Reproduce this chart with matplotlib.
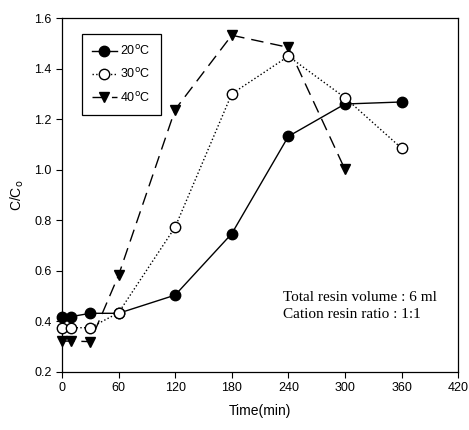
import matplotlib
matplotlib.use('Agg')
import matplotlib.pyplot as plt

# sampling times (min)
t20 = [0, 10, 30, 60, 120, 180, 240, 300, 360]
c20 = [0.419, 0.419, 0.432, 0.432, 0.504, 0.747, 1.132, 1.260, 1.268]

t30 = [0, 10, 30, 60, 120, 180, 240, 300, 360]
c30 = [0.375, 0.375, 0.375, 0.434, 0.773, 1.300, 1.449, 1.285, 1.085]

t40 = [0, 10, 30, 60, 120, 180, 240, 300]
c40 = [0.322, 0.322, 0.320, 0.582, 1.238, 1.532, 1.484, 1.001]

xticks = [0, 60, 120, 180, 240, 300, 360, 420]
yticks = [0.2, 0.4, 0.6, 0.8, 1.0, 1.2, 1.4, 1.6]

plt.rcParams['font.family'] = 'Liberation Sans'

fig = plt.figure(figsize=(4.69, 4.30), dpi=100)
ax = fig.add_axes([0.132, 0.135, 0.845, 0.823])

ms = 7.5
ax.plot(t20, c20, '-', color='black', lw=1.0, marker='o', ms=ms,
        mfc='black', mec='black', label='20$^{\\rm o}$C', zorder=3)
ax.plot(t30, c30, ':', color='black', lw=1.0, marker='o', ms=ms,
        mfc='white', mec='black', label='30$^{\\rm o}$C', zorder=4)
ax.plot(t40, c40, color='black', lw=1.0, dashes=(9, 5), marker='v', ms=ms,
        mfc='black', mec='black', label='40$^{\\rm o}$C', zorder=2)

ax.set_xlim(0, 420)
ax.set_ylim(0.2, 1.6)
ax.set_xticks(xticks)
ax.set_yticks(yticks)
ax.set_xticklabels([str(v) for v in xticks])
ax.set_yticklabels(['%.1f' % v for v in yticks])
ax.tick_params(direction='out', length=4, width=0.8, labelsize=9)
for s in ax.spines.values():
    s.set_linewidth(0.9)
for ln in ax.lines:
    ln.set_clip_on(False)

ax.set_xlabel('Time(min)', fontsize=10, labelpad=7)
ax.set_ylabel('C/C$_{\\rm o}$', fontsize=10, labelpad=6)

leg = ax.legend(loc='upper left', bbox_to_anchor=(0.05, 0.955), fontsize=9,
                frameon=True, fancybox=False, edgecolor='black', framealpha=1,
                handlelength=2.0, handletextpad=0.3, borderpad=0.8,
                labelspacing=0.75, borderaxespad=0)
leg.get_frame().set_linewidth(0.9)
leg.set_zorder(1)

ax.text(0.558, 0.186, 'Total resin volume : 6 ml\nCation resin ratio : 1:1',
        transform=ax.transAxes, ha='left', va='center',
        fontsize=11, family='Liberation Serif', linespacing=1.45)

fig.savefig('out.png', dpi=100)
